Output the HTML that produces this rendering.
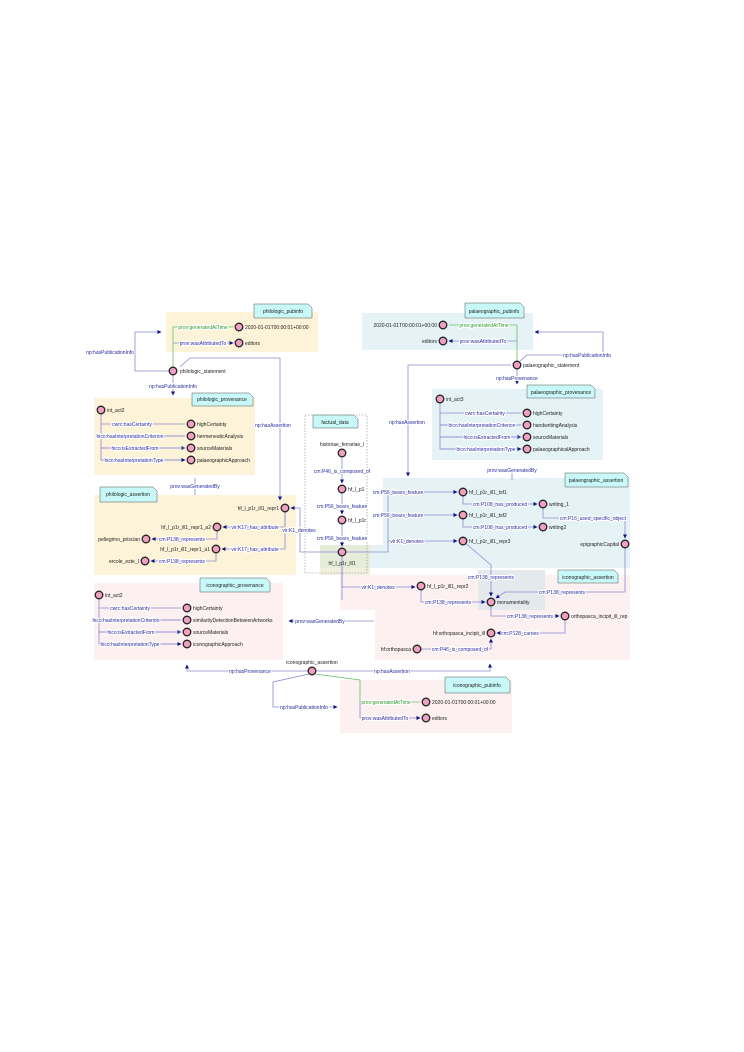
<!DOCTYPE html>
<html><head><meta charset="utf-8"><style>
html,body{margin:0;padding:0;background:#fff}
svg{display:block}
text{font-family:"Liberation Sans",sans-serif;font-size:5px;fill:#222}
.l{fill:#2a2aa0;paint-order:stroke;stroke:#fff;stroke-width:2.2px;stroke-linejoin:round}
.g{fill:#2a9a2a;paint-order:stroke;stroke:#fff;stroke-width:2.2px;stroke-linejoin:round}
.e{stroke:#8a8ad0;stroke-width:0.8;fill:none}
.eg{stroke:#6abf6a;stroke-width:0.8;fill:none}
.n{fill:#f0a0c0;stroke:#222;stroke-width:1.3}
.note{fill:#c8f8f8;stroke:#555;stroke-width:0.5}
</style></head><body>
<svg width="744" height="1052" viewBox="0 0 744 1052" xmlns="http://www.w3.org/2000/svg">
<defs>
<marker id="ar" markerWidth="4" markerHeight="4" refX="3.5" refY="2" orient="auto" markerUnits="userSpaceOnUse"><path d="M0,0L4,2L0,4z" fill="#11118a"/></marker>
</defs>
<rect x="166" y="312" width="152" height="40" fill="#fdf3d8"/>
<rect x="94" y="398" width="161" height="77" fill="#fdf3d8"/>
<rect x="94" y="495" width="202" height="80" fill="#fdf3d8"/>
<rect x="362" y="313" width="171" height="37" fill="#e6f3f6"/>
<rect x="432" y="389" width="171" height="71" fill="#e6f3f6"/>
<rect x="383" y="478" width="247" height="90" fill="#e6f3f6"/>
<rect x="320" y="545" width="63" height="23" fill="#e6f3f6"/>
<rect x="94" y="583" width="189" height="77" fill="#fdf0f0"/>
<rect x="340" y="575" width="290" height="85" fill="#fdf0f0"/>
<rect x="283" y="610" width="92" height="50" fill="#fff"/>
<rect x="478" y="570" width="67" height="40" fill="#e4e9ee"/>
<rect x="340" y="680" width="172" height="53" fill="#fdf0f0"/>
<rect x="320" y="545" width="50" height="30" fill="#e8e6c8" opacity="0.6"/>
<rect x="305" y="415" width="62" height="158" fill="none" stroke="#888" stroke-width="0.6" stroke-dasharray="1.5,1.5"/>
<g>
<path class="note" d="M254,304h54l4,4v10h-58z"/><text x="283" y="313" text-anchor="middle">philologic_pubinfo</text>
<path class="note" d="M192,393h57l4,4v9h-61z"/><text x="222" y="401" text-anchor="middle">philologic_provenance</text>
<path class="note" d="M100,487h53l4,4v11h-57z"/><text x="128" y="496" text-anchor="middle">philologic_assertion</text>
<path class="note" d="M313,415h41l4,4v9h-45z"/><text x="335" y="424" text-anchor="middle">factual_data</text>
<path class="note" d="M465,303h55l4,4v11h-59z"/><text x="494" y="313" text-anchor="middle">palaeographic_pubinfo</text>
<path class="note" d="M527,385h64l4,4v9h-68z"/><text x="561" y="394" text-anchor="middle">palaeographic_provenance</text>
<path class="note" d="M565,473h59l4,4v10h-63z"/><text x="596" y="482" text-anchor="middle">palaeographic_assertion</text>
<path class="note" d="M558,570h56l4,4v9h-60z"/><text x="588" y="579" text-anchor="middle">iconographic_assertion</text>
<path class="note" d="M200,578h66l4,4v10h-70z"/><text x="235" y="587" text-anchor="middle">iconographic_provenance</text>
<path class="note" d="M445,677h61l4,4v12h-65z"/><text x="477" y="687" text-anchor="middle">iconographic_pubinfo</text>
</g>
<path class="eg" d="M173,371V327H233"/>
<path class="e" d="M173,343H233" marker-end="url(#ar)"/>
<path class="e" d="M173,371H135V332H161" marker-end="url(#ar)"/>
<path class="e" d="M173,371V395" marker-end="url(#ar)"/>
<path class="e" d="M180,367L190,358H280V500" marker-end="url(#ar)"/>
<path class="e" d="M101,410V460H185M101,424H185M101,436H185M101,448H185" marker-end="url(#ar)"/>
<path class="e" d="M101,436H185M101,448H185M101,460H185" marker-end="url(#ar)"/>
<path class="e" d="M195,478V495"/>
<path class="e" d="M285,508V527H223" marker-end="url(#ar)"/>
<path class="e" d="M285,508V549H222" marker-end="url(#ar)"/>
<path class="e" d="M217,527V539H152" marker-end="url(#ar)"/>
<path class="e" d="M216,549V561H151" marker-end="url(#ar)"/>
<path class="e" d="M342,552H300V508H291" marker-end="url(#ar)"/>
<path class="e" d="M342,458V483" marker-end="url(#ar)"/>
<path class="e" d="M342,489V514" marker-end="url(#ar)"/>
<path class="e" d="M342,520V546" marker-end="url(#ar)"/>
<path class="e" d="M342,552H388V492H457" marker-end="url(#ar)"/>
<path class="e" d="M388,515H457" marker-end="url(#ar)"/>
<path class="e" d="M388,541H457" marker-end="url(#ar)"/>
<path class="e" d="M342,552V587H415" marker-end="url(#ar)"/>
<path class="e" d="M342,552V600"/>
<path class="eg" d="M517,365V325H449"/>
<path class="e" d="M517,341H449" marker-end="url(#ar)"/>
<path class="e" d="M520,361L527,355H603V332H535" marker-end="url(#ar)"/>
<path class="e" d="M517,365V384" marker-end="url(#ar)"/>
<path class="e" d="M511,365H408V476" marker-end="url(#ar)"/>
<path class="e" d="M440,399V449H521M440,413H521M440,425H521M440,437H521" marker-end="url(#ar)"/>
<path class="e" d="M440,425H521M440,437H521M440,449H521" marker-end="url(#ar)"/>
<path class="e" d="M512,470V480"/>
<path class="e" d="M463,492V504H537" marker-end="url(#ar)"/>
<path class="e" d="M463,515V527H537" marker-end="url(#ar)"/>
<path class="e" d="M543,504V518H625V538" marker-end="url(#ar)"/>
<path class="e" d="M463,541L491,565V596" marker-end="url(#ar)"/>
<path class="e" d="M625,544V592H505L496,598" marker-end="url(#ar)"/>
<path class="e" d="M421,586V602H485" marker-end="url(#ar)"/>
<path class="e" d="M491,602V616H559" marker-end="url(#ar)"/>
<path class="e" d="M565,616V633H497" marker-end="url(#ar)"/>
<path class="e" d="M417,649H491V639" marker-end="url(#ar)"/>
<path class="e" d="M99,595V644H181M99,608H181M99,620H181M99,632H181" marker-end="url(#ar)"/>
<path class="e" d="M99,620H181M99,632H181M99,644H181" marker-end="url(#ar)"/>
<path class="e" d="M374,621H289" marker-end="url(#ar)"/>
<path class="e" d="M312,671H187V665" marker-end="url(#ar)"/>
<path class="e" d="M312,671H490V664" marker-end="url(#ar)"/>
<path class="e" d="M309,674L273,682V707H337" marker-end="url(#ar)"/>
<path class="eg" d="M315,674L360,680V702H420"/>
<path class="e" d="M360,702V718H420" marker-end="url(#ar)"/>
<g>
<text x="203" y="329" text-anchor="middle" class="g">prov:generatedAtTime</text>
<text x="203" y="345" text-anchor="middle" class="l">prov:wasAttributedTo</text>
<text x="110" y="354" text-anchor="middle" class="l">np:hasPublicationInfo</text>
<text x="173" y="388" text-anchor="middle" class="l">np:hasPublicationInfo</text>
<text x="273" y="427" text-anchor="middle" class="l">np:hasAssertion</text>
<text x="132" y="426" text-anchor="middle" class="l">cwrc:hasCertainty</text>
<text x="130" y="438" text-anchor="middle" class="l">hico:hasInterpretationCriterion</text>
<text x="135" y="450" text-anchor="middle" class="l">hico:isExtractedFrom</text>
<text x="134" y="462" text-anchor="middle" class="l">hico:hasInterpretationType</text>
<text x="195" y="488" text-anchor="middle" class="l">prov:wasGeneratedBy</text>
<text x="255" y="529" text-anchor="middle" class="l">vir:K17_has_attribute</text>
<text x="255" y="551" text-anchor="middle" class="l">vir:K17_has_attribute</text>
<text x="182" y="541" text-anchor="middle" class="l">cm:P138_represents</text>
<text x="182" y="563" text-anchor="middle" class="l">cm:P138_represents</text>
<text x="299" y="532" text-anchor="middle" class="l">vir:K1_denotes</text>
<text x="342" y="473" text-anchor="middle" class="l">cm:P46_is_composed_of</text>
<text x="342" y="508" text-anchor="middle" class="l">cm:P56_bears_feature</text>
<text x="342" y="540" text-anchor="middle" class="l">cm:P56_bears_feature</text>
<text x="484" y="327" text-anchor="middle" class="g">prov:generatedAtTime</text>
<text x="483" y="343" text-anchor="middle" class="l">prov:wasAttributedTo</text>
<text x="587" y="357" text-anchor="middle" class="l">np:hasPublicationInfo</text>
<text x="517" y="380" text-anchor="middle" class="l">np:hasProvenance</text>
<text x="407" y="424" text-anchor="middle" class="l">np:hasAssertion</text>
<text x="485" y="415" text-anchor="middle" class="l">cwrc:hasCertainty</text>
<text x="482" y="427" text-anchor="middle" class="l">hico:hasInterpretationCriterion</text>
<text x="487" y="439" text-anchor="middle" class="l">hico:isExtractedFrom</text>
<text x="486" y="451" text-anchor="middle" class="l">hico:hasInterpretationType</text>
<text x="512" y="472" text-anchor="middle" class="l">prov:wasGeneratedBy</text>
<text x="398" y="494" text-anchor="middle" class="l">cm:P56_bears_feature</text>
<text x="398" y="517" text-anchor="middle" class="l">cm:P56_bears_feature</text>
<text x="407" y="543" text-anchor="middle" class="l">vir:K1_denotes</text>
<text x="500" y="506" text-anchor="middle" class="l">cm:P108_has_produced</text>
<text x="500" y="529" text-anchor="middle" class="l">cm:P108_has_produced</text>
<text x="593" y="520" text-anchor="middle" class="l">cm:P16_used_specific_object</text>
<text x="491" y="579" text-anchor="middle" class="l">cm:P138_represents</text>
<text x="378" y="589" text-anchor="middle" class="l">vir:K1_denotes</text>
<text x="448" y="604" text-anchor="middle" class="l">cm:P138_represents</text>
<text x="562" y="594" text-anchor="middle" class="l">cm:P138_represents</text>
<text x="530" y="618" text-anchor="middle" class="l">cm:P138_represents</text>
<text x="520" y="635" text-anchor="middle" class="l">cm:P128_carries</text>
<text x="460" y="651" text-anchor="middle" class="l">cm:P46_is_composed_of</text>
<text x="130" y="610" text-anchor="middle" class="l">cwrc:hasCertainty</text>
<text x="126" y="622" text-anchor="middle" class="l">hico:hasInterpretationCriterion</text>
<text x="131" y="634" text-anchor="middle" class="l">hico:isExtractedFrom</text>
<text x="130" y="646" text-anchor="middle" class="l">hico:hasInterpretationType</text>
<text x="320" y="623" text-anchor="middle" class="l">prov:wasGeneratedBy</text>
<text x="250" y="673" text-anchor="middle" class="l">np:hasProvenance</text>
<text x="392" y="673" text-anchor="middle" class="l">np:hasAssertion</text>
<text x="304" y="709" text-anchor="middle" class="l">np:hasPublicationInfo</text>
<text x="386" y="704" text-anchor="middle" class="g">prov:generatedAtTime</text>
<text x="385" y="720" text-anchor="middle" class="l">prov:wasAttributedTo</text>
</g>
<g>
<circle class="n" cx="239" cy="327" r="3.8"/><text x="245" y="329">2020-01-01T00:00:01+00:00</text>
<circle class="n" cx="239" cy="343" r="3.8"/><text x="245" y="345">editors</text>
<circle class="n" cx="173" cy="371" r="3.8"/><text x="180" y="373">philologic_statement</text>
<circle class="n" cx="101" cy="410" r="3.8"/><text x="107" y="412">int_act2</text>
<circle class="n" cx="191" cy="424" r="3.8"/><text x="197" y="426">highCertainty</text>
<circle class="n" cx="191" cy="436" r="3.8"/><text x="197" y="438">hermeneuticAnalysis</text>
<circle class="n" cx="191" cy="448" r="3.8"/><text x="197" y="450">sourceMaterials</text>
<circle class="n" cx="191" cy="460" r="3.8"/><text x="197" y="462">palaeographicApproach</text>
<circle class="n" cx="285" cy="508" r="3.8"/><text x="279" y="510" text-anchor="end">hf_l_p1r_ill1_repr1</text>
<circle class="n" cx="217" cy="527" r="3.8"/><text x="211" y="529" text-anchor="end">hf_l_p1r_ill1_repr1_a2</text>
<circle class="n" cx="146" cy="539" r="3.8"/><text x="140" y="541" text-anchor="end">pellegrino_priscian</text>
<circle class="n" cx="216" cy="549" r="3.8"/><text x="210" y="551" text-anchor="end">hf_l_p1r_ill1_repr1_a1</text>
<circle class="n" cx="145" cy="561" r="3.8"/><text x="139" y="563" text-anchor="end">ercole_este_I</text>
<text x="342" y="446" text-anchor="middle">historiae_ferrariae_l</text>
<circle class="n" cx="342" cy="453" r="3.8"/>
<circle class="n" cx="342" cy="489" r="3.8"/><text x="348" y="491">hf_l_p1</text>
<circle class="n" cx="342" cy="520" r="3.8"/><text x="348" y="522">hf_l_p1r</text>
<circle class="n" cx="342" cy="552" r="3.8"/><text x="342" y="565" text-anchor="middle">hf_l_p1r_ill1</text>
<circle class="n" cx="443" cy="325" r="3.8"/><text x="437" y="327" text-anchor="end">2020-01-01T00:00:01+00:00</text>
<circle class="n" cx="443" cy="341" r="3.8"/><text x="437" y="343" text-anchor="end">editors</text>
<circle class="n" cx="517" cy="365" r="3.8"/><text x="523" y="367">palaeographic_statement</text>
<circle class="n" cx="440" cy="399" r="3.8"/><text x="446" y="401">int_act3</text>
<circle class="n" cx="527" cy="413" r="3.8"/><text x="533" y="415">highCertainty</text>
<circle class="n" cx="527" cy="425" r="3.8"/><text x="533" y="427">handwritingAnalysis</text>
<circle class="n" cx="527" cy="437" r="3.8"/><text x="533" y="439">sourceMaterials</text>
<circle class="n" cx="527" cy="449" r="3.8"/><text x="533" y="451">palaeographicalApproach</text>
<circle class="n" cx="463" cy="492" r="3.8"/><text x="469" y="494">hf_l_p1r_ill1_tsf1</text>
<circle class="n" cx="463" cy="515" r="3.8"/><text x="469" y="517">hf_l_p1r_ill1_tsf2</text>
<circle class="n" cx="463" cy="541" r="3.8"/><text x="469" y="543">hf_l_p1r_ill1_repr3</text>
<circle class="n" cx="543" cy="504" r="3.8"/><text x="549" y="506">writing_1</text>
<circle class="n" cx="543" cy="527" r="3.8"/><text x="549" y="529">writing2</text>
<circle class="n" cx="625" cy="544" r="3.8"/><text x="619" y="546" text-anchor="end">epigraphicCapital</text>
<circle class="n" cx="421" cy="586" r="3.8"/><text x="427" y="588">hf_l_p1r_ill1_repr2</text>
<circle class="n" cx="491" cy="602" r="3.8"/><text x="497" y="604">monumentality</text>
<circle class="n" cx="565" cy="616" r="3.8"/><text x="571" y="618">orthopasca_incipit_ill_rep</text>
<circle class="n" cx="491" cy="633" r="3.8"/><text x="485" y="635" text-anchor="end">hf:orthopasca_incipit_ill</text>
<circle class="n" cx="417" cy="649" r="3.8"/><text x="411" y="651" text-anchor="end">hf:orthopasca</text>
<circle class="n" cx="99" cy="595" r="3.8"/><text x="105" y="597">int_act2</text>
<circle class="n" cx="187" cy="608" r="3.8"/><text x="193" y="610">highCertainty</text>
<circle class="n" cx="187" cy="620" r="3.8"/><text x="193" y="622">similarityDetectionBetweenArtworks</text>
<circle class="n" cx="187" cy="632" r="3.8"/><text x="193" y="634">sourceMaterials</text>
<circle class="n" cx="187" cy="644" r="3.8"/><text x="193" y="646">iconographicApproach</text>
<circle class="n" cx="312" cy="671" r="3.8"/><text x="312" y="664" text-anchor="middle">iconographic_assertion</text>
<circle class="n" cx="426" cy="702" r="3.8"/><text x="432" y="704">2020-01-01T00:00:01+00:00</text>
<circle class="n" cx="426" cy="718" r="3.8"/><text x="432" y="720">editors</text>
</g>
</svg>
</body></html>
